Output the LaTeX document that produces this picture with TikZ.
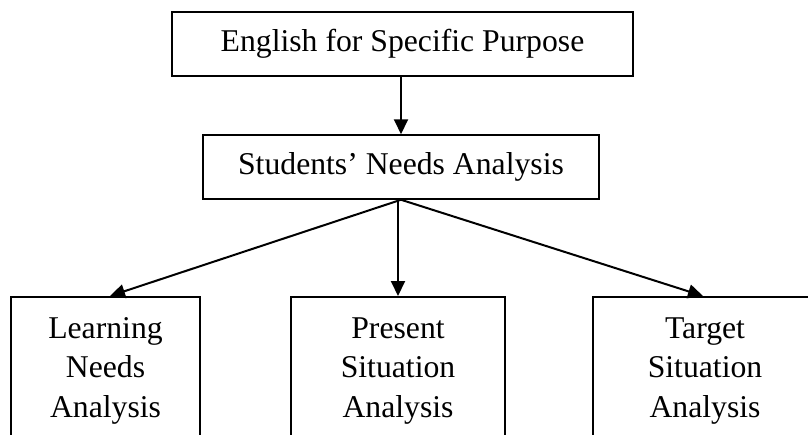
\documentclass[tikz,border=0pt]{standalone}
\usepackage{fontspec}
\setmainfont{Liberation Serif}
\usetikzlibrary{arrows.meta}
\begin{document}
\begin{tikzpicture}[x=1pt,y=-1pt,
  box/.style={draw=black, line width=1.5pt, inner sep=0pt, align=center,
    font=\fontsize{31.7}{39.5}\selectfont},
  arr/.style={draw=black, line width=2pt, -{Triangle[length=15pt,width=14pt]}}]
\useasboundingbox (0,0) rectangle (808,434);
\clip (0,0) rectangle (808,434);
\fill[white] (0,0) rectangle (808,434);
\node[box, minimum width=461, minimum height=64] (esp) at (402.5,44) {English for Specific Purpose};
\node[box, minimum width=396, minimum height=64] (sna) at (401,167) {Students’ Needs Analysis};
\node[box, anchor=north, minimum width=189, minimum height=148] (lna) at (105.5,296) {Learning\\Needs\\Analysis};
\node[box, anchor=north, minimum width=214, minimum height=148] (psa) at (398,296) {Present\\Situation\\Analysis};
\node[box, anchor=north, minimum width=224, minimum height=148] (tsa) at (705,296) {Target\\Situation\\Analysis};
\draw[arr] (esp.south -| 401,0) -- (sna.north -| 401,0);
\draw[arr] (sna.south) -- ([xshift=4.5]lna.north);
\draw[arr] (sna.south -| psa.north) -- (psa.north);
\draw[arr] (sna.south) -- ([xshift=-2]tsa.north);
\end{tikzpicture}
\end{document}
